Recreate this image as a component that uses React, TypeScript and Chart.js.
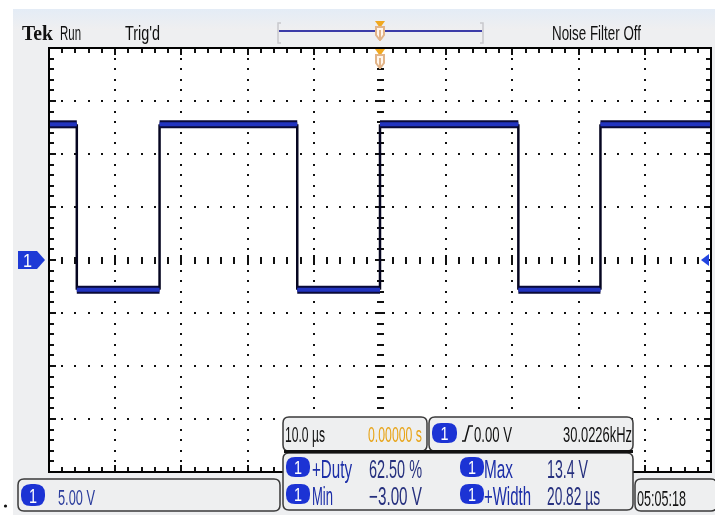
import { useEffect, useRef } from "react";
import { Chart, registerables } from "chart.js";

Chart.register(...registerables);

// ---- data (time in µs, voltage in V) ----
const timeUs = [-50, -45.8, -45.8, -33.3, -33.3, -12.5, -12.5, 0, 0, 20.9, 20.9, 33.3, 33.3, 50];
const levels = [12.8, 12.8, -2.8, -2.8, 12.8, 12.8, -2.8, -2.8, 12.8, 12.8, -2.8, -2.8, 12.8, 12.8];
const xRange = [-50, 50]; // 10 µs/div
const yRange = [-20, 20]; // 5 V/div
const xMajorStep = 10;
const yMajorStep = 5;
const xMinorStep = 2;
const yMinorStep = 1;

const headerLabels = { brand: "Tek", state: "Run", trig: "Trig'd", filter: "Noise Filter Off" };
const timebase = { perDiv: "10.0 µs", position: "0.00000 s" };
const trigger = { level: "0.00 V", freq: "30.0226kHz" };
const channelScale = "5.00 V";
const clockText = "05:05:18";
const measRow1 = [["+Duty", "62.50 %"], ["Max", "13.4 V"]];
const measRow2 = [["Min", "−3.00 V"], ["+Width", "20.82 µs"]];

const SANS = '"Liberation Sans", Arial, sans-serif';

function fitText(ctx: CanvasRenderingContext2D, text: string, x: number, y: number, w: number, size: number, color: string, family = SANS, weight = "normal") {
  ctx.save();
  ctx.font = `${weight} ${size}px ${family}`;
  ctx.textBaseline = "alphabetic";
  ctx.textAlign = "left";
  const m = ctx.measureText(text).width;
  ctx.translate(x, y);
  ctx.scale(w / m, 1);
  ctx.fillStyle = color;
  ctx.fillText(text, 0, 0);
  ctx.restore();
}

function rrect(ctx: CanvasRenderingContext2D, x: number, y: number, w: number, h: number, r: number) {
  ctx.beginPath();
  ctx.moveTo(x + r, y);
  ctx.lineTo(x + w - r, y);
  ctx.quadraticCurveTo(x + w, y, x + w, y + r);
  ctx.lineTo(x + w, y + h - r);
  ctx.quadraticCurveTo(x + w, y + h, x + w - r, y + h);
  ctx.lineTo(x + r, y + h);
  ctx.quadraticCurveTo(x, y + h, x, y + h - r);
  ctx.lineTo(x, y + r);
  ctx.quadraticCurveTo(x, y, x + r, y);
  ctx.closePath();
}

function box(ctx: CanvasRenderingContext2D, x: number, y: number, w: number, h: number) {
  ctx.save();
  rrect(ctx, x, y, w, h, 6);
  ctx.fillStyle = "#eeeff0";
  ctx.fill();
  ctx.strokeStyle = "#3a3a3a";
  ctx.lineWidth = 1.5;
  ctx.stroke();
  ctx.restore();
}

function badge(ctx: CanvasRenderingContext2D, x: number, y: number, w: number, h: number) {
  ctx.save();
  rrect(ctx, x, y, w, h, h / 2.2);
  ctx.fillStyle = "#1c33d4";
  ctx.fill();
  ctx.restore();
  fitText(ctx, "1", x + w / 2 - 4, y + h - 3, 8, h - 1, "#ffffff");
}

function tekMarker(ctx: CanvasRenderingContext2D, cx: number, top: number) {
  ctx.save();
  ctx.fillStyle = "#f0a820";
  ctx.beginPath();
  ctx.moveTo(cx - 5, top);
  ctx.lineTo(cx + 5, top);
  ctx.lineTo(cx, top + 7);
  ctx.closePath();
  ctx.fill();
  ctx.strokeStyle = "#e2b488";
  ctx.lineWidth = 2;
  ctx.fillStyle = "#fff6ec";
  ctx.beginPath();
  ctx.moveTo(cx - 4, top + 6);
  ctx.lineTo(cx + 4, top + 6);
  ctx.lineTo(cx + 4, top + 14);
  ctx.lineTo(cx + 1, top + 18);
  ctx.lineTo(cx - 1, top + 18);
  ctx.lineTo(cx - 4, top + 14);
  ctx.closePath();
  ctx.fill();
  ctx.stroke();
  ctx.beginPath();
  ctx.moveTo(cx, top + 9);
  ctx.lineTo(cx, top + 20);
  ctx.stroke();
  ctx.restore();
}

const scopePlugin = {
  id: "scope",
  beforeDraw(chart: any) {
    const ctx: CanvasRenderingContext2D = chart.ctx;
    const { left, right, top, bottom } = chart.chartArea;
    const xs = chart.scales.x;
    const ys = chart.scales.y;
    ctx.save();
    ctx.fillStyle = "#ffffff";
    ctx.fillRect(0, 0, chart.width, chart.height);
    ctx.fillStyle = "#eeeff1";
    ctx.fillRect(13, 9, chart.width - 13, chart.height - 9);
    const g = ctx.createLinearGradient(0, 9, 0, 30);
    g.addColorStop(0, "#e4ecf6");
    g.addColorStop(1, "#efeff0");
    ctx.fillStyle = g;
    ctx.fillRect(13, 9, chart.width - 13, 21);
    ctx.fillStyle = "#ffffff";
    ctx.fillRect(left, top, right - left, bottom - top);
    ctx.fillStyle = "#111111";
    for (let xv = xRange[0] + xMajorStep; xv < xRange[1]; xv += xMajorStep) {
      if (xv === 0) continue;
      const px = Math.round(xs.getPixelForValue(xv));
      for (let yv = yRange[0] + yMinorStep; yv < yRange[1]; yv += yMinorStep) {
        const py = Math.round(ys.getPixelForValue(yv));
        ctx.fillRect(px - 1, py - 1, 2, 2);
      }
    }
    for (let yv = yRange[0] + yMajorStep; yv < yRange[1]; yv += yMajorStep) {
      if (yv === 0) continue;
      const py = Math.round(ys.getPixelForValue(yv));
      for (let xv = xRange[0] + xMinorStep; xv < xRange[1]; xv += xMinorStep) {
        const px = Math.round(xs.getPixelForValue(xv));
        ctx.fillRect(px - 1, py - 1, 2, 2);
      }
    }
    const cx = Math.round(xs.getPixelForValue(0));
    const cy = Math.round(ys.getPixelForValue(0));
    for (let xv = xRange[0] + xMinorStep; xv < xRange[1]; xv += xMinorStep) {
      const px = Math.round(xs.getPixelForValue(xv));
      const major = Math.abs(xv % xMajorStep) < 1e-9;
      ctx.fillRect(px - 1, cy - (major ? 5 : 3), 2, major ? 10 : 7);
    }
    for (let yv = yRange[0] + yMinorStep; yv < yRange[1]; yv += yMinorStep) {
      const py = Math.round(ys.getPixelForValue(yv));
      const major = Math.abs(yv % yMajorStep) < 1e-9;
      ctx.fillRect(cx - (major ? 5 : 3), py - 1, major ? 10 : 7, 2);
    }
    for (let xv = xRange[0] + xMinorStep; xv < xRange[1]; xv += xMinorStep) {
      const px = Math.round(xs.getPixelForValue(xv));
      const major = Math.abs(xv % xMajorStep) < 1e-9;
      const len = major ? 7 : 5;
      ctx.fillRect(px - 1, top, 2, len);
      ctx.fillRect(px - 1, bottom - len, 2, len);
    }
    for (let yv = yRange[0] + yMinorStep; yv < yRange[1]; yv += yMinorStep) {
      const py = Math.round(ys.getPixelForValue(yv));
      const major = Math.abs(yv % yMajorStep) < 1e-9;
      const len = major ? 7 : 5;
      ctx.fillRect(left, py - 1, len, 2);
      ctx.fillRect(right - len, py - 1, len, 2);
    }
    ctx.restore();
  },
  afterDatasetsDraw(chart: any) {
    const ctx: CanvasRenderingContext2D = chart.ctx;
    const { left, right, top, bottom } = chart.chartArea;
    const xs = chart.scales.x;
    const ys = chart.scales.y;
    ctx.save();
    ctx.strokeStyle = "#000000";
    ctx.lineWidth = 2;
    ctx.strokeRect(left, top, right - left, bottom - top);

    fitText(ctx, headerLabels.brand, 22, 40, 31, 21, "#111111", '"Liberation Serif", "Times New Roman", serif', "bold");
    fitText(ctx, headerLabels.state, 60, 40, 21, 20, "#111111");
    fitText(ctx, headerLabels.trig, 125, 40, 35, 20, "#111111");
    fitText(ctx, headerLabels.filter, 552, 40, 89, 20, "#111111");
    ctx.strokeStyle = "#3c3ca8";
    ctx.lineWidth = 2;
    ctx.beginPath();
    ctx.moveTo(279, 31);
    ctx.lineTo(482, 31);
    ctx.stroke();
    ctx.strokeStyle = "#c8c8cc";
    ctx.lineWidth = 1.5;
    ctx.beginPath();
    ctx.moveTo(281, 23); ctx.lineTo(278, 23); ctx.lineTo(278, 43); ctx.lineTo(281, 43);
    ctx.moveTo(480, 23); ctx.lineTo(483, 23); ctx.lineTo(483, 43); ctx.lineTo(480, 43);
    ctx.stroke();
    const cxp = xs.getPixelForValue(0);
    tekMarker(ctx, cxp, 21);
    tekMarker(ctx, cxp, top + 1);

    const gy = ys.getPixelForValue(0);
    ctx.fillStyle = "#1e3ad6";
    ctx.beginPath();
    ctx.moveTo(18, gy - 9);
    ctx.lineTo(37, gy - 9);
    ctx.lineTo(45, gy);
    ctx.lineTo(37, gy + 9);
    ctx.lineTo(18, gy + 9);
    ctx.closePath();
    ctx.fill();
    fitText(ctx, "1", 23, gy + 7, 9, 18, "#ffffff");
    ctx.fillStyle = "#2244e0";
    ctx.beginPath();
    ctx.moveTo(701, gy);
    ctx.lineTo(709, gy - 6);
    ctx.lineTo(709, gy + 6);
    ctx.closePath();
    ctx.fill();

    box(ctx, 283, 417, 144, 34);
    box(ctx, 429, 417, 204, 34);
    fitText(ctx, timebase.perDiv, 285, 442, 40, 22, "#111111");
    fitText(ctx, timebase.position, 368, 442, 54, 22, "#e8a418");
    badge(ctx, 432, 423, 25, 20);
    ctx.strokeStyle = "#111111";
    ctx.lineWidth = 1.5;
    ctx.beginPath();
    ctx.moveTo(462, 441);
    ctx.lineTo(465, 441);
    ctx.lineTo(469, 426);
    ctx.lineTo(473, 426);
    ctx.stroke();
    fitText(ctx, trigger.level, 474, 442, 38, 22, "#111111");
    fitText(ctx, trigger.freq, 563, 442, 69, 22, "#111111");

    box(ctx, 283, 453, 350, 57);
    ctx.fillStyle = "#111111";
    ctx.fillRect(284, 450, 349, 3);
    const rows = [measRow1, measRow2];
    const rowY = [478, 505];
    rows.forEach((row, ri) => {
      const by = rowY[ri];
      badge(ctx, 286, by - 21, 24, 20);
      badge(ctx, 460, by - 21, 24, 20);
      const lw1 = ri === 0 ? 40 : 21;
      const lw2 = ri === 0 ? 29 : 47;
      const vw2 = ri === 0 ? 41 : 53;
      fitText(ctx, row[0][0], 312, by, lw1, 25, "#1c2ea8");
      fitText(ctx, row[0][1], 369, by, 53, 25, "#26307e");
      fitText(ctx, row[1][0], 484, by, lw2, 25, "#1c2ea8");
      fitText(ctx, row[1][1], 547, by, vw2, 25, "#26307e");
    });

    box(ctx, 18, 479, 262, 32);
    badge(ctx, 21, 484, 24, 22);
    fitText(ctx, channelScale, 58, 505, 37, 22, "#2a3c9c");

    box(ctx, 635, 479, 82, 32);
    fitText(ctx, clockText, 637, 506, 49, 22, "#111111");

    ctx.fillStyle = "#111111";
    ctx.beginPath();
    ctx.arc(5.5, 506, 1.6, 0, Math.PI * 2);
    ctx.fill();
    ctx.restore();
  },
};

export default function App() {
  const ref = useRef<HTMLCanvasElement | null>(null);
  useEffect(() => {
    if (!ref.current) return;
    const pts = timeUs.map((t, i) => ({ x: t, y: levels[i] }));
    const isVert = (c: any) => c.p0.parsed.x === c.p1.parsed.x;
    const chart = new Chart(ref.current, {
      type: "line",
      data: {
        datasets: [
          {
            data: pts,
            order: 0,
            borderColor: "#2234c0",
            borderWidth: 4,
            pointRadius: 0,
            tension: 0,
            segment: {
              borderColor: (c: any) => (isVert(c) ? "rgba(0,0,0,0)" : "#2234c0"),
              borderWidth: (c: any) => (isVert(c) ? 0.1 : 4),
            },
          },
          {
            data: pts,
            order: 1,
            borderColor: "#0a0a38",
            borderWidth: 8,
            pointRadius: 0,
            tension: 0,
            segment: {
              borderColor: (c: any) => (isVert(c) ? "#050520" : "#0a0a38"),
              borderWidth: (c: any) => (isVert(c) ? 2.5 : 8),
            },
          },
        ],
      },
      options: {
        animation: false,
        responsive: false,
        devicePixelRatio: 1,
        layout: { padding: { left: 49, top: 48, right: 4, bottom: 43 } },
        plugins: { legend: { display: false }, tooltip: { enabled: false } },
        scales: {
          x: { type: "linear", min: xRange[0], max: xRange[1], display: false },
          y: { type: "linear", min: yRange[0], max: yRange[1], display: false },
        },
      },
      plugins: [scopePlugin],
    } as any);
    return () => chart.destroy();
  }, []);
  return (
    <div style={{ position: "absolute", left: 0, top: 0, width: 715, height: 515 }}>
      <canvas ref={ref} width={715} height={515} style={{ display: "block" }} />
    </div>
  );
}
